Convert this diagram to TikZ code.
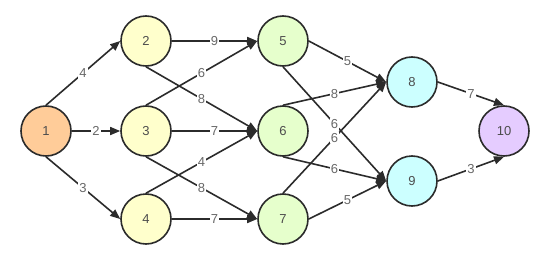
\documentclass[tikz,border=0pt]{standalone}
\usepackage{fontspec}
\setsansfont{Liberation Sans}
\usetikzlibrary{arrows.meta}
\definecolor{cline}{HTML}{2B2B2B}
\definecolor{ctext}{HTML}{4D4D4D}
\definecolor{corange}{HTML}{FFCC99}
\definecolor{cyellow}{HTML}{FFFFCC}
\definecolor{cgreen}{HTML}{E6FFCC}
\definecolor{ccyan}{HTML}{CCFFFF}
\definecolor{cpurple}{HTML}{E5CCFF}
\tikzset{
  every picture/.style={font=\sffamily, line width=1.6pt},
  vert/.style={circle, draw=cline, fill=#1, minimum size=50pt, inner sep=0pt, text=ctext, font=\sffamily\fontsize{13}{15}\selectfont},
  vert/.default=cyellow,
  arrow/.style={-{Triangle[length=10pt, width=8pt]}, draw=cline, line width=1.6pt},
  wt/.style={fill=white, inner sep=1pt, text=ctext!85, font=\sffamily\fontsize{13}{15}\selectfont},
}

\begin{document}
\begin{tikzpicture}[x=1pt, y=-1pt]
  \useasboundingbox (0,0) rectangle (553,262);
  % vertices
  \node[vert=corange] (v1) at (46,131) {1};
  \node[vert] (v2) at (146,41) {2};
  \node[vert] (v3) at (146,131) {3};
  \node[vert] (v4) at (146,219) {4};
  \node[vert=cgreen] (v5) at (283,41) {5};
  \node[vert=cgreen] (v6) at (283,131) {6};
  \node[vert=cgreen] (v7) at (283,219) {7};
  \node[vert=ccyan] (v8) at (412,82) {8};
  \node[vert=ccyan] (v9) at (412,181) {9};
  \node[vert=cpurple] (v10) at (504,131) {10};
  % weighted edges
  \draw[arrow] (v1.north) -- node[wt] {4} (v2.west);
  \draw[arrow] (v1.east) -- node[wt] {2} (v3.west);
  \draw[arrow] (v1.south) -- node[wt] {3} (v4.west);
  \draw[arrow] (v2.east) -- node[wt] {9} (v5.west);
  \draw[arrow] (v2.south) -- node[wt] {8} (v6.west);
  \draw[arrow] (v3.north) -- node[wt] {6} (v5.west);
  \draw[arrow] (v3.east) -- node[wt] {7} (v6.west);
  \draw[arrow] (v3.south) -- node[wt] {8} (v7.west);
  \draw[arrow] (v4.north) -- node[wt] {4} (v6.west);
  \draw[arrow] (v4.east) -- node[wt] {7} (v7.west);
  \draw[arrow] (v5.east) -- node[wt] {5} (v8.west);
  \draw[arrow] (v5.south) -- node[wt] {6} (v9.west);
  \draw[arrow] (v6.north) -- node[wt] {8} (v8.west);
  \draw[arrow] (v6.south) -- node[wt] {6} (v9.west);
  \draw[arrow] (v7.north) -- node[wt] {6} (v8.west);
  \draw[arrow] (v7.east) -- node[wt] {5} (v9.west);
  \draw[arrow] (v8.east) -- node[wt] {7} (v10.north);
  \draw[arrow] (v9.east) -- node[wt] {3} (v10.south);
\end{tikzpicture}
\end{document}
